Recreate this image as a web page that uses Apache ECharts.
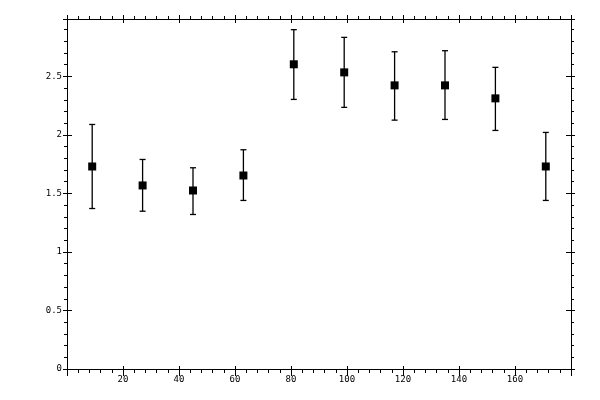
<!DOCTYPE html>
<html>
<head>
<meta charset="utf-8">
<script src="https://cdn.jsdelivr.net/npm/echarts@6/dist/echarts.min.js"></script>
<style>
html, body { margin: 0; padding: 0; background: #fff; }
#chart1 { width: 600px; height: 400px; }
</style>
</head>
<body>
<div id="chart1"></div>
<script>
// bin centres and measured values
var xVals = [9, 27, 45, 63, 81, 99, 117, 135, 153, 171];
var yVals = [1.73, 1.568, 1.525, 1.653, 2.603, 2.534, 2.423, 2.423, 2.312, 1.73];
var yLow  = [1.371, 1.348, 1.320, 1.440, 2.303, 2.235, 2.126, 2.132, 2.038, 1.440];
var yHigh = [2.089, 1.790, 1.719, 1.873, 2.899, 2.833, 2.710, 2.719, 2.577, 2.021];
var xTicks = [20, 40, 60, 80, 100, 120, 140, 160];
var yTicks = [0, 0.5, 1, 1.5, 2, 2.5];

var fontName = 'DejaVu Sans Mono';

function makeAxis(pos, isX, showLabel, inside, len, minorLen) {
    var ax = {
        type: 'value',
        position: pos,
        min: 0,
        max: isX ? 180 : 2.99,
        interval: isX ? 20 : 0.5,
        splitLine: { show: false },
        axisLine: { show: !inside, onZero: false, lineStyle: { color: '#000', width: 1 } },
        axisTick: { show: true, inside: inside, length: len, lineStyle: { color: '#000', width: 1 } },
        minorTick: { show: minorLen > 0, splitNumber: 5, length: minorLen, lineStyle: { color: '#000', width: 1 } },
        axisLabel: {
            show: showLabel,
            color: '#000',
            fontFamily: fontName,
            fontSize: 9,
            margin: isX ? 6 : 5,
            formatter: function (v) {
                var list = isX ? xTicks : yTicks;
                for (var i = 0; i < list.length; i++) {
                    if (Math.abs(list[i] - v) < 1e-6) return String(list[i]);
                }
                return '';
            }
        }
    };
    return ax;
}

var Chart1 = echarts.init(document.getElementById('chart1'), null, { renderer: 'canvas' });

var scatterData = [];
var barData = [];
for (var i = 0; i < xVals.length; i++) {
    scatterData.push([xVals[i], yVals[i]]);
    barData.push([xVals[i], yLow[i], yHigh[i]]);
}

var option1 = {
    animation: false,
    backgroundColor: '#fff',
    grid: { left: 67, right: 29, top: 19, bottom: 31 },
    xAxis: [
        makeAxis('bottom', true, true, false, 7, 4),
        makeAxis('bottom', true, false, true, 3, 0),
        makeAxis('top', true, false, false, 4, 3),
        makeAxis('top', true, false, true, 4, 0)
    ],
    yAxis: [
        makeAxis('left', false, true, false, 4, 3),
        makeAxis('left', false, false, true, 5, 0),
        makeAxis('right', false, false, false, 4, 3),
        makeAxis('right', false, false, true, 5, 0)
    ],
    series: [
        {
            type: 'custom',
            xAxisIndex: 0,
            yAxisIndex: 0,
            data: barData,
            renderItem: function (params, api) {
                var x = api.value(0);
                var lo = api.coord([x, api.value(1)]);
                var hi = api.coord([x, api.value(2)]);
                var cap = 3;
                var st = { stroke: '#000', lineWidth: 1.3 };
                return {
                    type: 'group',
                    children: [
                        { type: 'line', shape: { x1: lo[0], y1: lo[1], x2: hi[0], y2: hi[1] }, style: st },
                        { type: 'line', shape: { x1: lo[0] - cap, y1: lo[1], x2: lo[0] + cap, y2: lo[1] }, style: st },
                        { type: 'line', shape: { x1: hi[0] - cap, y1: hi[1], x2: hi[0] + cap, y2: hi[1] }, style: st }
                    ]
                };
            },
            z: 2
        },
        {
            type: 'scatter',
            xAxisIndex: 0,
            yAxisIndex: 0,
            symbol: 'rect',
            symbolSize: 8,
            itemStyle: { color: '#000', opacity: 1 },
            data: scatterData,
            z: 3
        }
    ]
};
Chart1.setOption(option1);
</script>
</body>
</html>
